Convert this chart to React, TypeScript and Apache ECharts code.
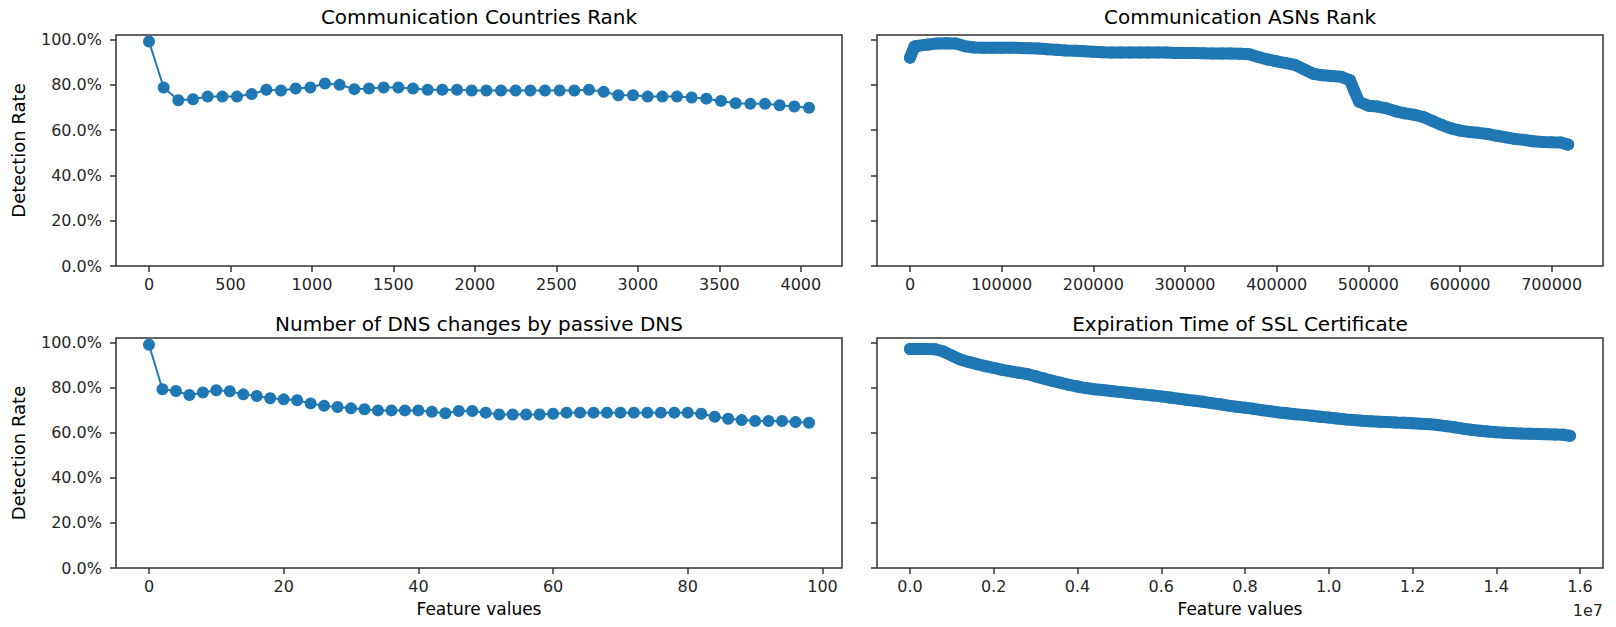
import React, { useEffect, useRef } from "react";
import * as echarts from "echarts";

const countriesX = [0, 90, 180, 270, 360, 450, 540, 630, 720, 810, 900, 990, 1080, 1170, 1260, 1350, 1440, 1530, 1620, 1710, 1800, 1890, 1980, 2070, 2160, 2250, 2340, 2430, 2520, 2610, 2700, 2790, 2880, 2970, 3060, 3150, 3240, 3330, 3420, 3510, 3600, 3690, 3780, 3870, 3960, 4050];
const countriesRate = [99.1, 78.8, 73.2, 73.6, 74.8, 74.8, 74.8, 75.9, 77.8, 77.5, 78.4, 78.8, 80.6, 80.0, 78.1, 78.4, 78.8, 78.8, 78.4, 77.8, 77.8, 77.8, 77.5, 77.5, 77.5, 77.5, 77.5, 77.5, 77.5, 77.5, 77.8, 76.9, 75.4, 75.4, 74.8, 74.8, 74.8, 74.4, 73.9, 72.9, 71.9, 71.6, 71.6, 71.0, 70.4, 69.9];

const dnsX = [0, 2, 4, 6, 8, 10, 12, 14, 16, 18, 20, 22, 24, 26, 28, 30, 32, 34, 36, 38, 40, 42, 44, 46, 48, 50, 52, 54, 56, 58, 60, 62, 64, 66, 68, 70, 72, 74, 76, 78, 80, 82, 84, 86, 88, 90, 92, 94, 96, 98];
const dnsRate = [99.0, 79.3, 78.5, 76.7, 77.8, 78.8, 78.4, 77.0, 76.3, 75.3, 74.8, 74.4, 73.0, 71.9, 71.4, 70.8, 70.4, 69.9, 69.9, 69.9, 69.9, 69.3, 68.6, 69.6, 69.6, 68.9, 68.1, 68.1, 68.1, 68.1, 68.4, 68.9, 68.9, 68.9, 68.9, 68.9, 68.9, 68.9, 68.9, 68.9, 68.9, 68.4, 67.1, 66.2, 65.6, 65.2, 65.2, 65.2, 64.7, 64.4];

const asnX = [0, 5000, 10000, 20000, 30000, 40000, 50000, 60000, 70000, 80000, 90000, 100000, 110000, 120000, 130000, 140000, 150000, 160000, 170000, 180000, 190000, 200000, 210000, 220000, 230000, 240000, 250000, 260000, 270000, 280000, 290000, 300000, 310000, 320000, 330000, 340000, 350000, 360000, 370000, 380000, 390000, 400000, 410000, 420000, 430000, 440000, 450000, 460000, 470000, 480000, 485000, 490000, 500000, 510000, 520000, 530000, 540000, 550000, 560000, 570000, 580000, 590000, 600000, 610000, 620000, 630000, 640000, 650000, 660000, 670000, 680000, 690000, 700000, 710000, 718000];
const asnRate = [92.0, 97.0, 97.3, 97.8, 98.3, 98.4, 98.2, 97.0, 96.5, 96.4, 96.4, 96.4, 96.4, 96.3, 96.2, 96.0, 95.7, 95.5, 95.2, 95.0, 94.8, 94.6, 94.4, 94.3, 94.3, 94.3, 94.3, 94.3, 94.3, 94.3, 94.1, 94.0, 94.0, 93.9, 93.8, 93.8, 93.8, 93.7, 93.5, 92.3, 91.2, 90.4, 89.6, 88.8, 86.8, 84.9, 84.2, 83.9, 83.6, 82.0, 77.0, 72.5, 70.8, 70.4, 69.6, 68.3, 67.4, 66.8, 65.8, 64.0, 62.3, 60.8, 59.8, 59.2, 58.8, 58.3, 57.5, 56.8, 56.1, 55.7, 55.1, 54.8, 54.6, 54.5, 53.6];

const sslX = [0, 200000, 400000, 600000, 800000, 1000000, 1200000, 1400000, 1600000, 1800000, 2000000, 2200000, 2400000, 2600000, 2800000, 3000000, 3200000, 3400000, 3600000, 3800000, 4000000, 4200000, 4400000, 4600000, 4800000, 5000000, 5200000, 5400000, 5600000, 5800000, 6000000, 6200000, 6400000, 6600000, 6800000, 7000000, 7200000, 7400000, 7600000, 7800000, 8000000, 8200000, 8400000, 8600000, 8800000, 9000000, 9200000, 9400000, 9600000, 9800000, 10000000, 10200000, 10400000, 10600000, 10800000, 11000000, 11200000, 11400000, 11600000, 11800000, 12000000, 12200000, 12400000, 12600000, 12800000, 13000000, 13200000, 13400000, 13600000, 13800000, 14000000, 14200000, 14400000, 14600000, 14800000, 15000000, 15200000, 15400000, 15600000, 15760000];
const sslRate = [97.1, 97.1, 97.1, 97.0, 96.0, 94.2, 92.5, 91.4, 90.4, 89.5, 88.7, 87.9, 87.2, 86.6, 86.0, 85.0, 84.0, 83.0, 82.1, 81.2, 80.5, 79.8, 79.3, 78.9, 78.5, 78.1, 77.7, 77.3, 76.9, 76.5, 76.1, 75.6, 75.1, 74.6, 74.2, 73.7, 73.1, 72.6, 72.0, 71.5, 71.1, 70.6, 70.0, 69.5, 69.0, 68.6, 68.2, 67.9, 67.5, 67.1, 66.7, 66.3, 65.9, 65.6, 65.3, 65.1, 64.9, 64.7, 64.5, 64.4, 64.2, 64.0, 63.8, 63.4, 62.9, 62.4, 61.8, 61.3, 60.9, 60.5, 60.2, 60.0, 59.8, 59.6, 59.5, 59.4, 59.3, 59.2, 59.1, 58.6];

const yTicks = [0, 20, 40, 60, 80, 100];
const countriesTicks = [0, 500, 1000, 1500, 2000, 2500, 3000, 3500, 4000];
const dnsTicks = [0, 20, 40, 60, 80, 100];
const asnTicks = [0, 100000, 200000, 300000, 400000, 500000, 600000, 700000];
const sslTicks = [0, 2000000, 4000000, 6000000, 8000000, 10000000, 12000000, 14000000, 16000000];

const titles = [
  "Communication Countries Rank",
  "Communication ASNs Rank",
  "Number of DNS changes by passive DNS",
  "Expiration Time of SSL Certificate",
];
const xAxisTitle = "Feature values";
const yAxisTitle = "Detection Rate";

const FONT = "DejaVu Sans";
const BLUE = "#1f77b4";
const SPINE = "#333333";
const LABEL = "#262626";

const pairs = (xs: number[], ys: number[]) => xs.map((x, i) => [x, ys[i]]);

export default function App() {
  const ref = useRef<HTMLDivElement>(null);
  useEffect(() => {
    if (!ref.current) return;
    const chart = echarts.init(ref.current, null, { renderer: "svg" });

    const grids = [
      { left: 116, top: 35, width: 726, height: 231 },
      { left: 877, top: 35, width: 726, height: 231 },
      { left: 116, top: 338, width: 726, height: 230 },
      { left: 877, top: 338, width: 726, height: 230 },
    ].map((g) => ({ ...g, show: true, borderColor: SPINE, borderWidth: 1.5, backgroundColor: "transparent" }));

    const xDefs = [
      { min: -202.5, max: 4252.5, ticks: countriesTicks, fmt: (v: number) => String(v) },
      { min: -36000, max: 756000, ticks: asnTicks, fmt: (v: number) => String(v) },
      { min: -4.9, max: 102.9, ticks: dnsTicks, fmt: (v: number) => String(v) },
      { min: -788000, max: 16548000, ticks: sslTicks, fmt: (v: number) => (v / 1e7).toFixed(1) },
    ];

    const xAxis = xDefs.map((d, i) => ({
      type: "value",
      gridIndex: i,
      min: d.min,
      max: d.max,
      axisLine: { show: false, onZero: false },
      splitLine: { show: false },
      axisTick: { show: true, length: 6, customValues: d.ticks, lineStyle: { color: SPINE, width: 1.5 } },
      axisLabel: {
        customValues: d.ticks,
        formatter: d.fmt,
        fontSize: 16,
        color: LABEL,
        fontFamily: FONT,
        margin: 10,
      },
    }));

    const yAxis = [0, 1, 2, 3].map((i) => ({
      type: "value",
      gridIndex: i,
      min: 0,
      max: 102,
      axisLine: { show: false, onZero: false },
      splitLine: { show: false },
      axisTick: { show: true, length: 6, customValues: yTicks, lineStyle: { color: SPINE, width: 1.5 } },
      axisLabel: {
        show: i % 2 === 0,
        customValues: yTicks,
        formatter: (v: number) => v.toFixed(1) + "%",
        fontSize: 16,
        color: LABEL,
        fontFamily: FONT,
        margin: 14,
      },
      name: i % 2 === 0 ? yAxisTitle : "",
      nameLocation: "middle",
      nameGap: 89,
      nameTextStyle: { fontSize: 18, color: "#000", fontFamily: FONT },
    }));

    const seriesData = [
      pairs(countriesX, countriesRate),
      pairs(asnX, asnRate),
      pairs(dnsX, dnsRate),
      pairs(sslX, sslRate),
    ];
    const series = seriesData.map((data, i) => ({
      type: "line",
      xAxisIndex: i,
      yAxisIndex: i,
      data,
      symbol: "circle",
      symbolSize: 12,
      showSymbol: true,
      showAllSymbol: true,
      silent: true,
      itemStyle: { color: BLUE },
      lineStyle: { color: BLUE, width: i % 2 === 0 ? 2 : 12, cap: "round", join: "round" },
    }));

    const centers = [479, 1240, 479, 1240];
    const titleY = [17, 17, 324, 324];
    const graphic: any[] = titles.map((t, i) => ({
      type: "text",
      x: centers[i],
      y: titleY[i],
      style: { text: t, fontSize: 20, fontFamily: FONT, fill: "#000", align: "center", verticalAlign: "middle" },
    }));
    graphic.push(
      { type: "text", x: 479, y: 609, style: { text: xAxisTitle, fontSize: 17, fontFamily: FONT, fill: "#000", align: "center", verticalAlign: "middle" } },
      { type: "text", x: 1240, y: 609, style: { text: xAxisTitle, fontSize: 17, fontFamily: FONT, fill: "#000", align: "center", verticalAlign: "middle" } },
      { type: "text", x: 1603, y: 610, style: { text: "1e7", fontSize: 16, fontFamily: FONT, fill: LABEL, align: "right", verticalAlign: "middle" } }
    );

    chart.setOption({
      animation: false,
      backgroundColor: "#ffffff",
      grid: grids,
      xAxis,
      yAxis,
      series,
      graphic,
    } as any);

    return () => chart.dispose();
  }, []);

  return (
    <div
      ref={ref}
      style={{ position: "absolute", left: 0, top: 0, width: 1616, height: 627 }}
    />
  );
}
